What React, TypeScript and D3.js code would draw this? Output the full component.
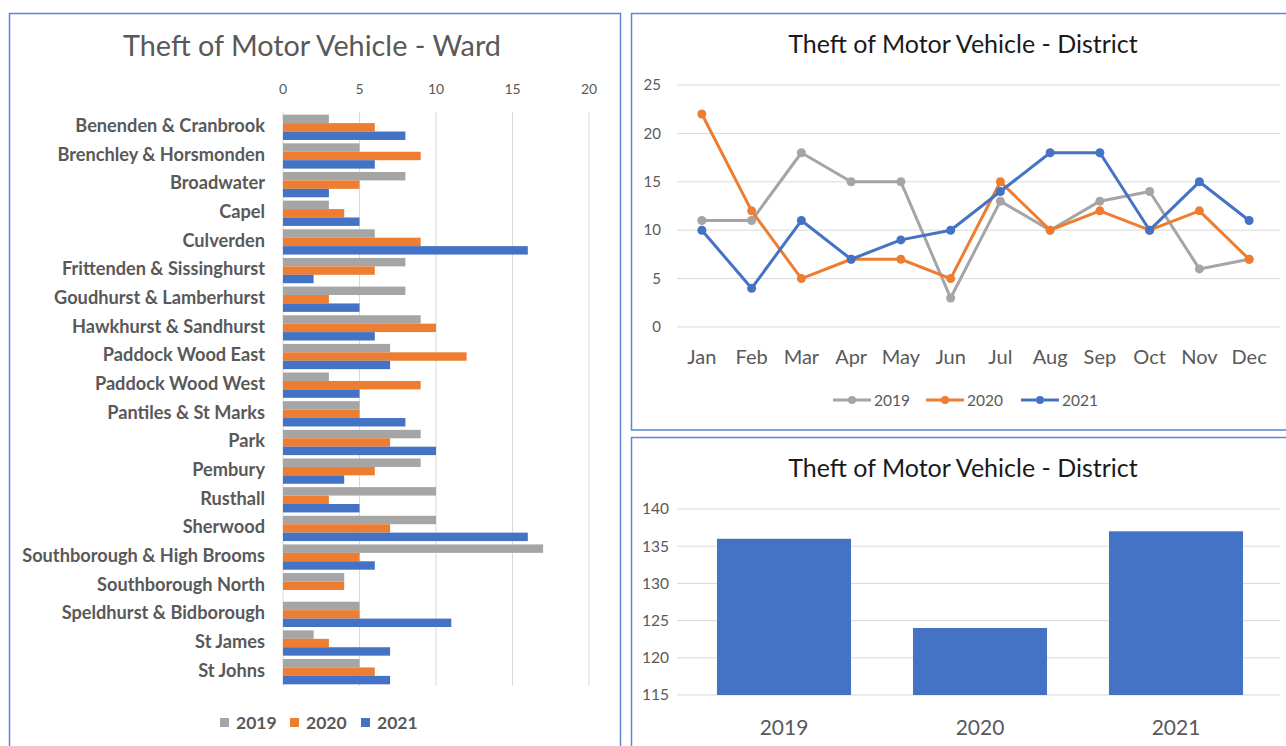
import React, { useRef, useEffect } from 'react';
import * as d3 from 'd3';

const wards = [
  'Benenden & Cranbrook', 'Brenchley & Horsmonden', 'Broadwater', 'Capel', 'Culverden',
  'Frittenden & Sissinghurst', 'Goudhurst & Lamberhurst', 'Hawkhurst & Sandhurst',
  'Paddock Wood East', 'Paddock Wood West', 'Pantiles & St Marks', 'Park', 'Pembury',
  'Rusthall', 'Sherwood', 'Southborough & High Brooms', 'Southborough North',
  'Speldhurst & Bidborough', 'St James', 'St Johns',
];
const ward2019 = [3, 5, 8, 3, 6, 8, 8, 9, 7, 3, 5, 9, 9, 10, 10, 17, 4, 5, 2, 5];
const ward2020 = [6, 9, 5, 4, 9, 6, 3, 10, 12, 9, 5, 7, 6, 3, 7, 5, 4, 5, 3, 6];
const ward2021 = [8, 6, 3, 5, 16, 2, 5, 6, 7, 5, 8, 10, 4, 5, 16, 6, 0, 11, 7, 7];
const wardTicks = [0, 5, 10, 15, 20];

const months = ['Jan', 'Feb', 'Mar', 'Apr', 'May', 'Jun', 'Jul', 'Aug', 'Sep', 'Oct', 'Nov', 'Dec'];
const month2019 = [11, 11, 18, 15, 15, 3, 13, 10, 13, 14, 6, 7];
const month2020 = [22, 12, 5, 7, 7, 5, 15, 10, 12, 10, 12, 7];
const month2021 = [10, 4, 11, 7, 9, 10, 14, 18, 18, 10, 15, 11];
const monthTicks = [0, 5, 10, 15, 20, 25];

const years = ['2019', '2020', '2021'];
const yearTotals = [136, 124, 137];
const totalTicks = [115, 120, 125, 130, 135, 140];

const colors = ['#A5A5A5', '#ED7D31', '#4472C4'];
const FONT = 'Lato, "Open Sans", sans-serif';
const TXT = '#595959';
const GRID = '#D9D9D9';
const BORDER = '#5B87D6';

const App = () => {
  const ref = useRef<SVGSVGElement>(null);

  useEffect(() => {
    const svg = d3.select(ref.current);
    svg.selectAll('*').remove();
    svg.style('font-family', FONT);

    // panel borders
    svg.append('rect').attr('x', 9.5).attr('y', 13.5).attr('width', 611).attr('height', 760)
      .attr('fill', 'none').attr('stroke', BORDER).attr('stroke-width', 1.5);
    svg.append('rect').attr('x', 631.5).attr('y', 13.5).attr('width', 700).attr('height', 416.5)
      .attr('fill', 'none').attr('stroke', BORDER).attr('stroke-width', 1.5);
    svg.append('rect').attr('x', 631.5).attr('y', 437.5).attr('width', 700).attr('height', 400)
      .attr('fill', 'none').attr('stroke', BORDER).attr('stroke-width', 1.5);

    // ---- ward chart ----
    const wardSeries = [ward2019, ward2020, ward2021];
    const x = d3.scaleLinear().domain([0, 20]).range([283, 589]);
    const y = d3.scaleBand().domain(wards).range([113, 686]);
    const sub = d3.scaleBand().domain(years).range([0, y.bandwidth()]).paddingOuter(0.2);

    const w = svg.append('g');
    w.append('text').attr('x', 312).attr('y', 56).attr('text-anchor', 'middle')
      .attr('font-size', 28.8).attr('fill', TXT).text('Theft of Motor Vehicle - Ward');

    w.selectAll('line.grid').data(wardTicks).join('line')
      .attr('x1', d => x(d)).attr('x2', d => x(d)).attr('y1', 112).attr('y2', 686)
      .attr('stroke', GRID).attr('stroke-width', 1);
    w.selectAll('text.tick').data(wardTicks).join('text')
      .attr('x', d => x(d)).attr('y', 94).attr('text-anchor', 'middle')
      .attr('font-size', 14).attr('fill', TXT).text(d => d);

    years.forEach((yr, s) => {
      w.append('g').selectAll('rect').data(wards).join('rect')
        .attr('x', x(0))
        .attr('y', d => (y(d) as number) + (sub(yr) as number))
        .attr('width', (d, i) => x(wardSeries[s][i]) - x(0))
        .attr('height', sub.bandwidth())
        .attr('fill', colors[s]);
    });

    w.selectAll('text.ward').data(wards).join('text')
      .attr('x', 265).attr('y', d => (y(d) as number) + y.bandwidth() / 2 - 1.5)
      .attr('dy', '0.35em').attr('text-anchor', 'end')
      .attr('font-size', 18.2).attr('font-weight', 'bold').attr('fill', TXT).text(d => d);

    const wl = w.append('g');
    const wlx = [220, 290, 361];
    years.forEach((yr, s) => {
      wl.append('rect').attr('x', wlx[s]).attr('y', 718).attr('width', 9).attr('height', 9).attr('fill', colors[s]);
      wl.append('text').attr('x', wlx[s] + 16).attr('y', 729).attr('font-size', 17.5)
        .attr('font-weight', 'bold').attr('fill', TXT).text(yr);
    });

    // ---- monthly line chart ----
    const monthSeries = [month2019, month2020, month2021];
    const mx = d3.scaleBand().domain(months).range([677, 1274]);
    const my = d3.scaleLinear().domain([0, 25]).range([327, 85]);
    const l = svg.append('g');
    l.append('text').attr('x', 963).attr('y', 53).attr('text-anchor', 'middle')
      .attr('font-size', 25).attr('fill', '#1a1a1a').text('Theft of Motor Vehicle - District');
    l.selectAll('line.grid').data(monthTicks).join('line')
      .attr('x1', 677).attr('x2', 1280).attr('y1', d => my(d)).attr('y2', d => my(d))
      .attr('stroke', GRID).attr('stroke-width', 1);
    l.selectAll('text.ytick').data(monthTicks).join('text')
      .attr('x', 661).attr('y', d => my(d)).attr('dy', '0.35em').attr('text-anchor', 'end')
      .attr('font-size', 15).attr('fill', TXT).text(d => d);
    l.selectAll('text.xtick').data(months).join('text')
      .attr('x', d => (mx(d) as number) + mx.bandwidth() / 2).attr('y', 364).attr('text-anchor', 'middle')
      .attr('font-size', 20).attr('fill', TXT).text(d => d);

    const line = d3.line<number>()
      .x((d, i) => (mx(months[i]) as number) + mx.bandwidth() / 2)
      .y(d => my(d));
    monthSeries.forEach((vals, s) => {
      l.append('path').attr('d', line(vals)).attr('fill', 'none')
        .attr('stroke', colors[s]).attr('stroke-width', 3).attr('stroke-linejoin', 'round');
      l.append('g').selectAll('circle').data(vals).join('circle')
        .attr('cx', (d, i) => (mx(months[i]) as number) + mx.bandwidth() / 2)
        .attr('cy', d => my(d)).attr('r', 4.5).attr('fill', colors[s]);
    });

    const llx = [833, 926, 1021];
    years.forEach((yr, s) => {
      l.append('line').attr('x1', llx[s]).attr('x2', llx[s] + 38).attr('y1', 400).attr('y2', 400)
        .attr('stroke', colors[s]).attr('stroke-width', 3);
      l.append('circle').attr('cx', llx[s] + 19).attr('cy', 400).attr('r', 4).attr('fill', colors[s]);
      l.append('text').attr('x', llx[s] + 41).attr('y', 405.5).attr('font-size', 15.5)
        .attr('fill', TXT).text(yr);
    });

    // ---- yearly totals ----
    const bx = d3.scaleBand().domain(years).range([686, 1274]).paddingInner(0.316).paddingOuter(0.158);
    const by = d3.scaleLinear().domain([115, 140]).range([695, 509]);
    const b = svg.append('g');
    b.append('text').attr('x', 963).attr('y', 477).attr('text-anchor', 'middle')
      .attr('font-size', 25).attr('fill', '#1a1a1a').text('Theft of Motor Vehicle - District');
    b.selectAll('line.grid').data(totalTicks).join('line')
      .attr('x1', 677).attr('x2', 1280).attr('y1', d => by(d)).attr('y2', d => by(d))
      .attr('stroke', GRID).attr('stroke-width', 1);
    b.selectAll('text.ytick').data(totalTicks).join('text')
      .attr('x', 669).attr('y', d => by(d)).attr('dy', '0.35em').attr('text-anchor', 'end')
      .attr('font-size', 15.5).attr('fill', TXT).text(d => d);
    b.selectAll('rect').data(yearTotals).join('rect')
      .attr('x', (d, i) => bx(years[i]) as number).attr('width', bx.bandwidth())
      .attr('y', d => by(d)).attr('height', d => by(115) - by(d))
      .attr('fill', colors[2]);
    b.selectAll('text.xtick').data(years).join('text')
      .attr('x', d => (bx(d) as number) + bx.bandwidth() / 2).attr('y', 735).attr('text-anchor', 'middle')
      .attr('font-size', 21).attr('fill', TXT).text(d => d);
  }, []);

  return (
    <svg ref={ref} width={1286} height={746}
      style={{ position: 'absolute', left: 0, top: 0, background: '#fff' }} />
  );
};

export default App;
